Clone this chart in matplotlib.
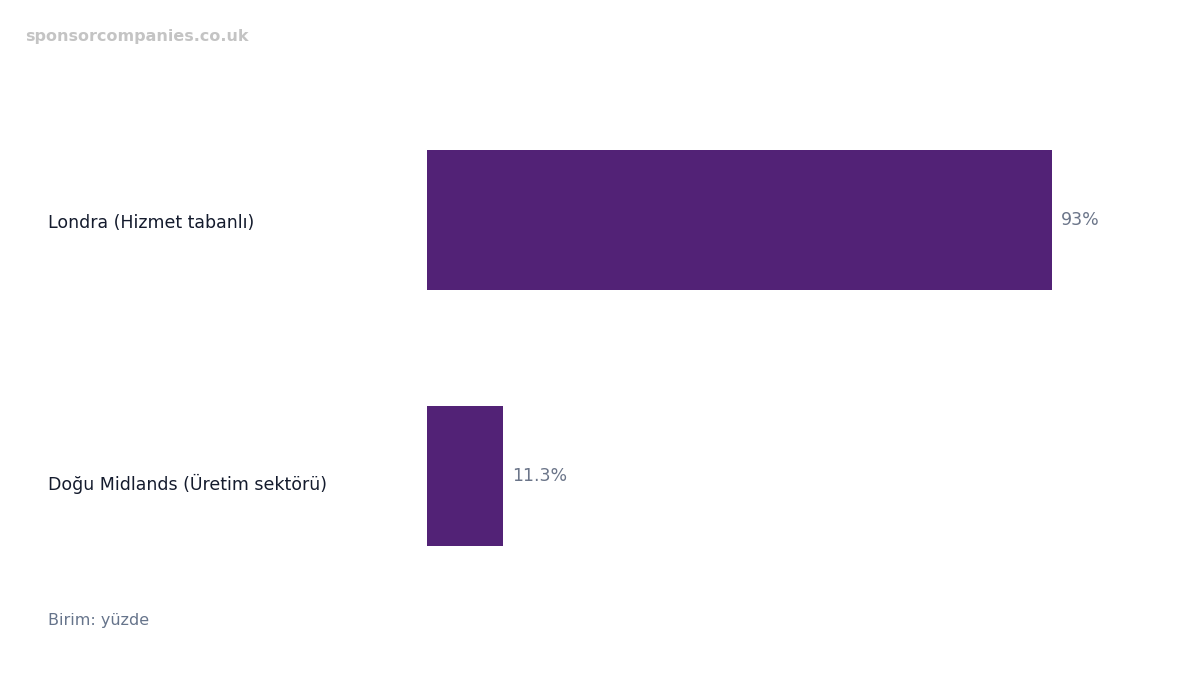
import matplotlib
matplotlib.use("Agg")
import matplotlib.pyplot as plt

categories = ["Londra (Hizmet tabanlı)", "Doğu Midlands (Üretim sektörü)"]
values = [93, 11.3]
value_labels = ["93%", "11.3%"]

fig = plt.figure(figsize=(12, 6.75), dpi=100)
ax = fig.add_axes([427/1200, 1-604/675, 672/1200, 512/675])
ypos = [0, 1]
ax.barh(ypos, values, height=0.55, color="#522276")
ax.set_xlim(0, 100)
ax.set_ylim(1.5, -0.5)
ax.axis("off")
for y, v, lab in zip(ypos, values, value_labels):
    ax.text(v + 1.4, y, lab, va="center", ha="left", fontsize=12.5, color="#6b7589")
for y, c in zip(ypos, categories):
    ax.text(48/1200, 0, c, transform=fig.transFigure, alpha=0)  # placeholder
fig.texts.clear()
fig.text(48/1200, 1-223/675, categories[0], va="center", ha="left", fontsize=12.5, color="#141b2d")
fig.text(48/1200, 1-484/675, categories[1], va="center", ha="left", fontsize=12.5, color="#141b2d")
fig.text(48/1200, 1-620/675, "Birim: yüzde", va="center", ha="left", fontsize=11.5, color="#66748b")
fig.text(25/1200, 1-36/675, "sponsorcompanies.co.uk", va="center", ha="left", fontsize=11.5,
         color="#c4c4c4", fontweight="bold")
fig.savefig("out.png", dpi=100)
